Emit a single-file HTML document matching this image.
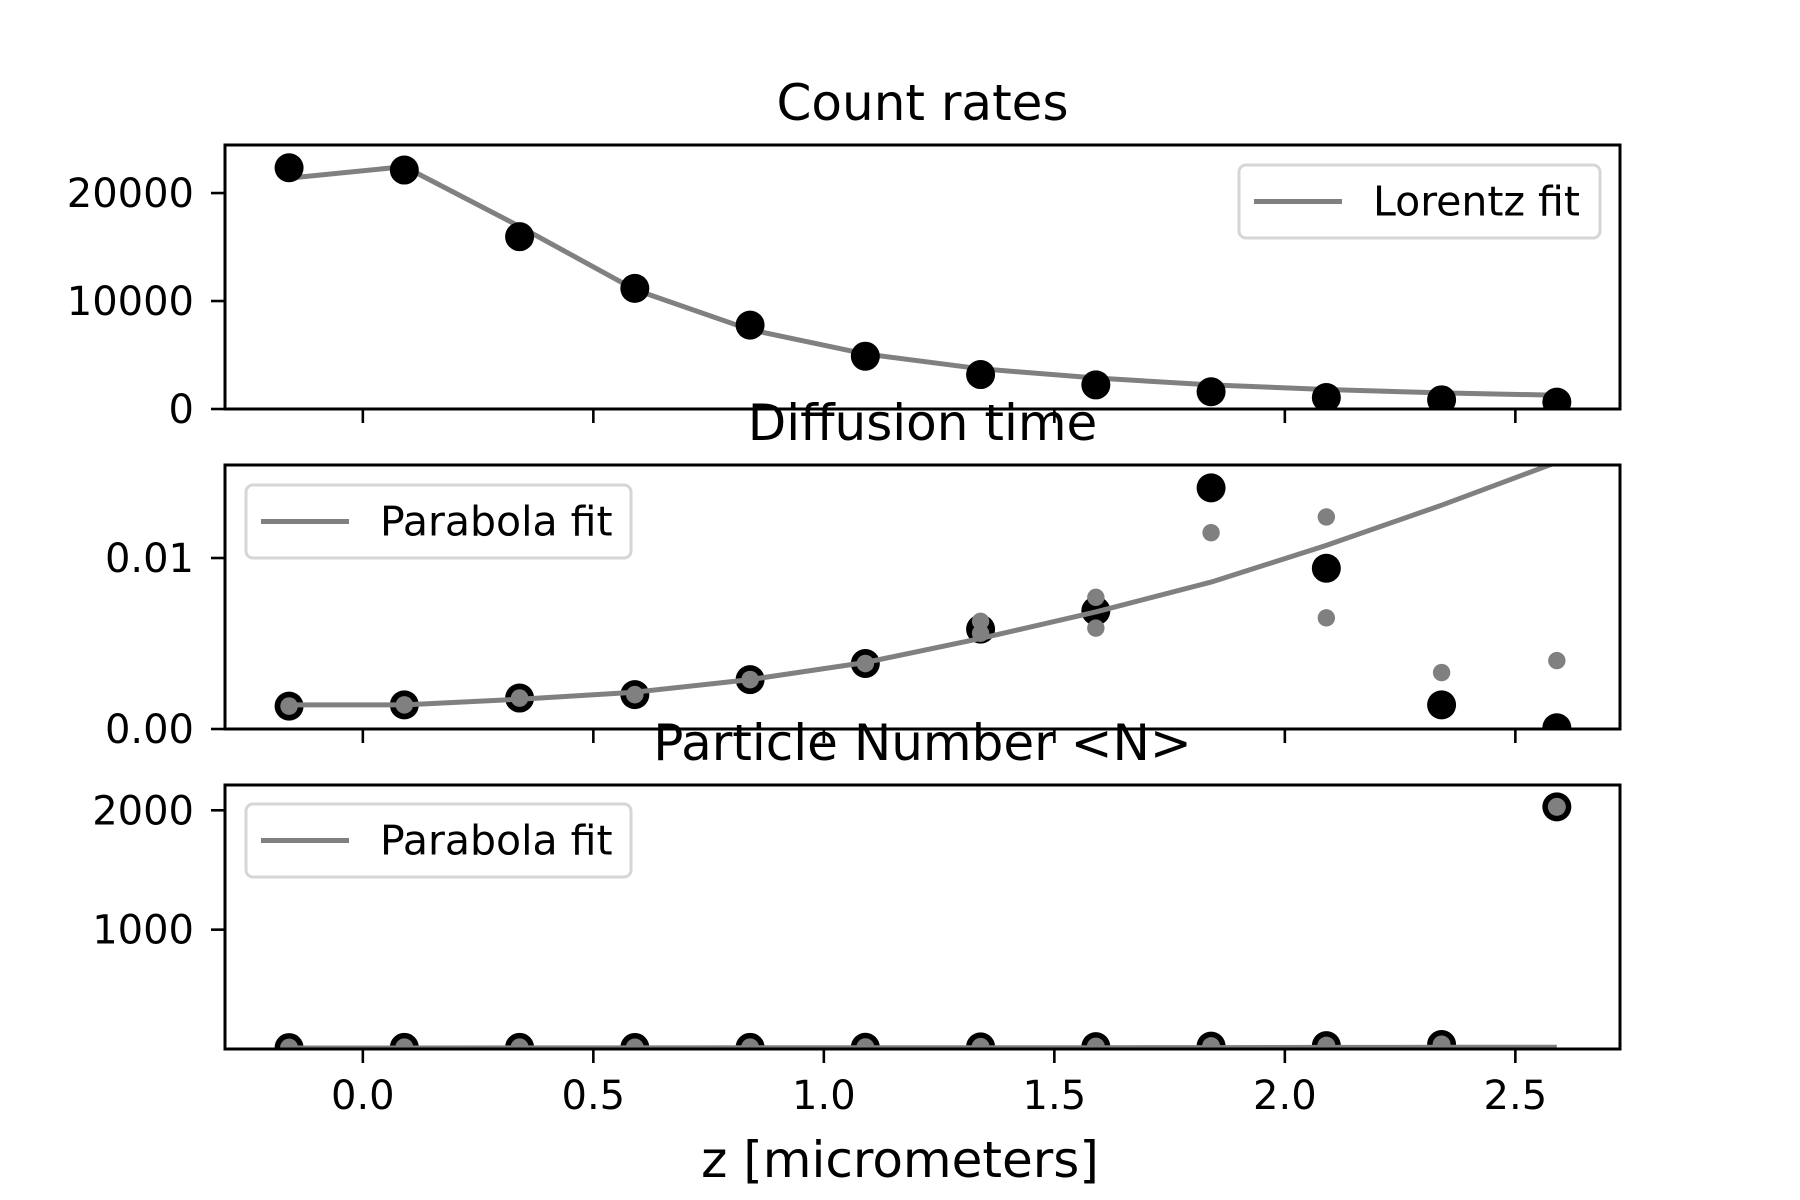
<!DOCTYPE html>
<html><head><meta charset="utf-8">
<style>
html,body{margin:0;padding:0;background:#fff;}
svg{display:block;font-family:"DejaVu Sans","Liberation Sans",sans-serif;}
</style></head>
<body>
<svg id="fig" width="1800" height="1200" viewBox="0 0 1800 1200" xmlns="http://www.w3.org/2000/svg"></svg>
<script>
const zValues = [-0.16,0.09,0.34,0.59,0.84,1.09,1.34,1.59,1.84,2.09,2.34,2.59];
const countRates = [22340,22130,15960,11170,7770,4890,3190,2230,1600,1060,850,640];
const countFit = [21380,22450,16900,11060,7340,5100,3720,2870,2230,1810,1490,1280];
const diffTime = [0.00134,0.00141,0.00181,0.00201,0.00289,0.00383,0.00584,0.00691,0.0141,0.0094,0.00141,0.00007];
const diffUpper = [0.00134,0.00141,0.00181,0.00201,0.00289,0.00383,0.0063,0.0077,0.0169,0.0124,0.0033,0.0040];
const diffLower = [0.00134,0.00141,0.00181,0.00201,0.00289,0.00383,0.0056,0.0059,0.01148,0.0065,-0.0005,-0.0040];
const diffFit = [0.00141,0.00141,0.00174,0.00215,0.00289,0.00389,0.0053,0.00685,0.00859,0.01074,0.01309,0.0156];
const partNum = [12,14,14,13,14,15,18,20,24,28,38,2029];
const partFit = [8,8,9,9,10,10,11,11,12,13,14,15];
const xTicks = [0.0,0.5,1.0,1.5,2.0,2.5];
const xTickLabels = ["0.0","0.5","1.0","1.5","2.0","2.5"];
const topTicks = [0,10000,20000];
const midTicks = [0,0.01];
const midTickLabels = ["0.00","0.01"];
const botTicks = [1000,2000];

const svg = document.getElementById('fig');
const NS = 'http://www.w3.org/2000/svg';
function mk(tag, attrs, parent){
  const e = document.createElementNS(NS, tag);
  for (const k in attrs) e.setAttribute(k, attrs[k]);
  (parent||svg).appendChild(e);
  return e;
}
const L = 225, R = 1620;
const xMin = -0.299, xMax = 2.727;
function xs(v){ return L + (v - xMin) / (xMax - xMin) * (R - L); }

function panel(name, top, bottom, yMin, yMax, title){
  const g = mk('g', {});
  
  
  const ys = v => bottom - (v - yMin) / (yMax - yMin) * (bottom - top);
  const clipId = 'clip-' + name;
  const cp = mk('clipPath', {id: clipId}, g);
  mk('rect', {x: L, y: top, width: R - L, height: bottom - top}, cp);
  const plot = mk('g', {'clip-path': 'url(#' + clipId + ')'}, g);
  const t = mk('text', {x: (L + R) / 2, y: top - 25, 'text-anchor': 'middle', 'font-size': 50, fill: '#000'}, g);
  
  
  t.textContent = title;
  return {g, plot, ys, top, bottom};
}

function xTicksFor(p, withLabels){
  xTicks.forEach((v, i) => {
    const x = xs(v);
    const tk = mk('line', {x1: x, x2: x, y1: p.bottom, y2: p.bottom + 14, stroke: '#000', 'stroke-width': 2.6}, p.g);
    
    
    if (withLabels) {
      const tl = mk('text', {x: x, y: p.bottom + 60, 'text-anchor': 'middle', 'font-size': 40}, p.g);
      
      
      tl.textContent = xTickLabels[i];
    }
  });
}
function yTicksFor(p, ticks, labels){
  ticks.forEach((v, i) => {
    const y = p.ys(v);
    const tk = mk('line', {x1: L - 14, x2: L, y1: y, y2: y, stroke: '#000', 'stroke-width': 2.6}, p.g);
    
    
    const tl = mk('text', {x: L - 31, y: y + 14, 'text-anchor': 'end', 'font-size': 40}, p.g);
    
    
    tl.textContent = labels ? labels[i] : String(v);
  });
}
function fitLine(p, vals, nm){
  const d = vals.map((v, i) => (i ? 'L' : 'M') + xs(zValues[i]).toFixed(1) + ',' + p.ys(v).toFixed(1)).join(' ');
  const pl = mk('path', {d: d, fill: 'none', stroke: '#808080', 'stroke-width': 5, 'stroke-linejoin': 'round'}, p.plot);
  
  
}
function dots(p, vals, r, color, nm){
  vals.forEach((v, i) => {
    const c = mk('circle', {cx: xs(zValues[i]), cy: p.ys(v), r: r, fill: color}, p.plot);
    
    
  });
}
function frame(p){
  const f = mk('rect', {x: L, y: p.top, width: R - L, height: p.bottom - p.top, fill: 'none', stroke: '#000', 'stroke-width': 3}, p.g);
  
  
}
function legend(p, x, y, w, h, label){
  const lg = mk('g', {}, p.g);
  
  
  mk('rect', {x: x, y: y, width: w, height: h, rx: 7, fill: '#fff', 'fill-opacity': 0.8, stroke: '#d6d6d6', 'stroke-width': 3}, lg);
  const ln = mk('line', {x1: x + 15, x2: x + 103, y1: y + h / 2, y2: y + h / 2, stroke: '#808080', 'stroke-width': 5}, lg);
  
  
  const tx = mk('text', {x: x + 134, y: y + h / 2 + 14, 'font-size': 41}, lg);
  
  
  tx.textContent = label;
}

// Top panel
const p1 = panel('count-rates', 145, 409, 0, 24450, 'Count rates');
fitLine(p1, countFit, 'lorentz-fit-line');
dots(p1, countRates, 14.5, '#000', 'count-rate-point');
frame(p1); xTicksFor(p1, false); yTicksFor(p1, topTicks);
legend(p1, 1239, 165, 361, 73, 'Lorentz fit');

// Middle panel
const p2 = panel('diffusion-time', 465, 729, 0, 0.01544, 'Diffusion time');
dots(p2, diffTime, 14.5, '#000', 'diffusion-time-point');
dots(p2, diffUpper, 8.7, '#808080', 'diffusion-upper-point');
dots(p2, diffLower, 8.7, '#808080', 'diffusion-lower-point');
fitLine(p2, diffFit, 'diffusion-parabola-fit-line');
frame(p2); xTicksFor(p2, false); yTicksFor(p2, midTicks, midTickLabels);
legend(p2, 246, 485, 385, 73, 'Parabola fit');

// Bottom panel
const p3 = panel('particle-number', 785, 1049, 0, 2212, 'Particle Number <N>');
dots(p3, partNum, 14.5, '#000', 'particle-number-point');
dots(p3, partNum, 9, '#808080', 'particle-number-inner-point');
fitLine(p3, partFit, 'particle-parabola-fit-line');
frame(p3); xTicksFor(p3, true); yTicksFor(p3, botTicks);
legend(p3, 246, 804, 385, 73, 'Parabola fit');

const xl = mk('text', {x: 900, y: 1177, 'text-anchor': 'middle', 'font-size': 50});


xl.textContent = 'z [micrometers]';
</script>
</body></html>
